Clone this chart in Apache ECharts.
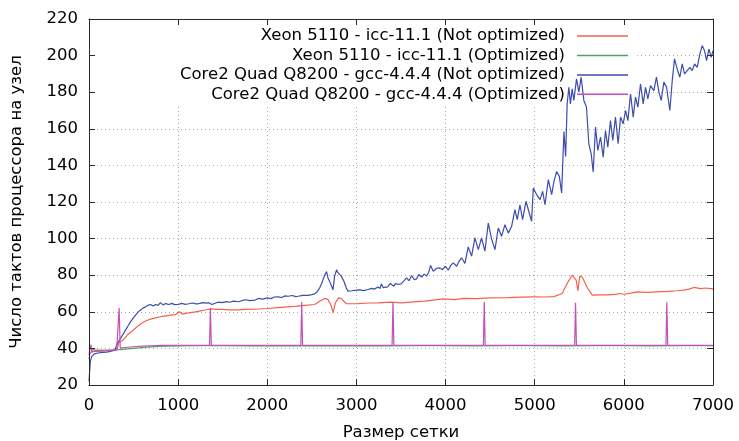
<!DOCTYPE html>
<html>
<head>
<meta charset="utf-8">
<script src="https://cdn.jsdelivr.net/npm/echarts@6/dist/echarts.min.js"></script>
<style>html,body{margin:0;padding:0;background:#fff}#c{width:739px;height:441px}</style>
</head>
<body>
<div id="c"></div>
<script>
const seriesNames = [
  'Xeon 5110 - icc-11.1 (Not optimized)',
  'Xeon 5110 - icc-11.1 (Optimized)',
  'Core2 Quad Q8200 - gcc-4.4.4 (Not optimized)',
  'Core2 Quad Q8200 - gcc-4.4.4 (Optimized)'
];
const xTicks = [0, 1000, 2000, 3000, 4000, 5000, 6000, 7000];
const yTicks = [20, 40, 60, 80, 100, 120, 140, 160, 180, 200, 220];

const redX = [0,10,30,100,200,290,318,336,373,400,429,485,520,560,600,634,690,746,800,858,920,970,1018,1044,1100,1194,1250,1306,1362,1420,1492,1580,1679,1746,1865,2000,2150,2307,2420,2531,2587,2643,2680,2700,2720,2737,2750,2763,2800,2830,2849,2886,3018,3150,3242,3380,3504,3640,3766,3974,4100,4200,4350,4500,4700,4850,5000,5110,5215,5308,5364,5420,5439,5465,5484,5506,5533,5589,5645,5730,5813,5900,5955,6000,6080,6150,6250,6374,6500,6600,6673,6730,6785,6860,6920,6972,7000];
const redY = [34,37,38.5,38.8,39,39.2,40,43.6,44.2,45.5,47.3,49.5,51,52.7,54,55,56,56.7,57.3,57.8,58.2,58.5,60,58.7,59.3,60,60.5,61,61.6,61.3,61.3,61.1,61,61.3,61.4,61.8,62.4,63,63.5,64,65.8,67.3,66.8,65.8,63,59.5,62,64.9,67.6,67.2,66.2,64.4,64.5,64.8,64.9,65.3,64.9,65.4,65.8,67.1,66.7,67.3,67.2,67.6,67.7,68,68.2,68.1,68.3,70,75.5,80,81,77.3,71.5,79.5,79,73.3,69.1,69.2,69.3,69.5,70,69.6,70.2,70.9,70.6,70.9,71.2,71.5,71.8,72.4,73.3,72.7,73,72.7,72.5];

const greenX = [0,20,60,150,250,300,373,460,560,650,746,850,1000,1200,1500,1800,2000,2300,2600,3000,3300,3600,4000,4300,4600,5000,5300,5600,6000,6300,6600,7000];
const greenY = [40.5,40,39.2,39,39,39.2,39.5,39.9,40.3,40.7,41,41.2,41.4,41.5,41.5,41.4,41.4,41.5,41.4,41.5,41.4,41.5,41.5,41.4,41.5,41.5,41.4,41.5,41.5,41.4,41.5,41.5];

const blueX = [0,15,30,60,100,150,200,250,290,317,354,380,410,440,466,495,522,550,578,605,634,660,690,720,746,775,802,830,860,895,930,960,1000,1040,1080,1119,1160,1200,1231,1280,1320,1343,1362,1380,1420,1460,1492,1540,1580,1620,1679,1720,1760,1800,1865,1900,1950,2000,2040,2080,2120,2160,2200,2232,2280,2320,2344,2400,2456,2500,2531,2560,2587,2610,2625,2650,2665,2681,2700,2720,2737,2755,2778,2790,2804,2830,2860,2886,2905,2950,3000,3040,3080,3130,3170,3200,3242,3265,3280,3300,3317,3350,3380,3392,3420,3440,3467,3500,3530,3562,3590,3619,3650,3675,3700,3731,3760,3787,3810,3832,3862,3900,3936,3965,4000,4030,4060,4086,4124,4150,4180,4217,4254,4292,4329,4367,4404,4441,4479,4516,4554,4591,4628,4666,4703,4741,4778,4804,4834,4864,4902,4939,4965,4984,5022,5059,5089,5115,5153,5190,5216,5246,5276,5302,5328,5347,5364,5383,5401,5420,5439,5469,5495,5521,5551,5581,5607,5633,5656,5682,5708,5738,5768,5794,5820,5850,5876,5906,5936,5963,5992,6019,6045,6075,6105,6131,6157,6187,6217,6243,6269,6299,6336,6366,6393,6419,6449,6479,6516,6543,6568,6598,6628,6655,6681,6711,6741,6767,6793,6823,6853,6879,6905,6928,6954,6980,7000];
const blueY = [22,33,35.5,37,37.5,37.8,38,38.5,39,42.7,45.5,47.5,50,52.5,54.5,56.5,58.2,59.8,61,62,62.7,63.5,64,63.2,64,63.5,65,63.8,64.5,64,64.6,63.9,64,64.6,64.1,64.4,64.8,64.3,64.5,65,64.7,65,65.2,64,64.8,65.3,65,65.6,65.2,65.8,65.5,66.2,66.6,66.1,66.4,67.3,66.9,67.6,67.2,68.1,68.2,67.8,68.7,68.5,68.9,68.3,68.5,69,69,69.4,69.8,71,73,75.5,77.6,80.7,82,78.5,76.5,77,72,79.5,83,81.5,80.7,79.5,76.7,73,71.3,71.5,71.8,72,71.6,72.2,72.8,72.4,73.5,72.8,75.3,73.2,74,73.6,75.5,74.9,74,75.5,74.9,75.3,76.8,78.5,77,79.8,77.5,78,80.4,79,80.6,79.5,81.5,85.3,82.2,83.8,84,83,84.9,82.7,85.5,86.7,84.9,87.5,89.5,86.4,95.5,90.4,100.4,94,100.4,93.1,108.5,99.8,94,105.8,101.3,107.6,103,106.7,115.8,110.4,118.5,110.4,120.4,114,109.5,127.6,124,121.3,125.8,118.5,132.2,124,131.3,136.7,134,124.9,158.5,144.9,173.6,182.7,173.6,181.8,175.5,187.3,180,188.2,175.5,171.8,151.8,146.4,136.4,160.9,148.2,155.5,144.5,159,150,164.5,153.6,166.4,151.8,166.4,162.7,170,164.5,179,166.4,177.3,171.8,184.5,173.6,182.7,176.4,183.6,180.9,188.2,180,175.5,185.5,182.7,170,186.4,198.2,192.7,188.2,195.5,190,191.8,193.6,191.8,195.5,193.6,200.9,205.5,202.7,197.3,203.6,199,202.7];

const pinkX = [0,12,22,32,60,150,250,310,326,338,350,400,500,600,700,800,1000,1200,1352,1362,1372,1600,1900,2200,2376,2386,2396,2700,3000,3200,3400,3410,3420,3700,4000,4200,4424,4434,4444,4700,5000,5200,5448,5458,5468,5700,6000,6250,6472,6482,6492,6700,7000];
const pinkY = [36.5,40,42,38,38.3,38.5,38.8,39.2,40,62,40.2,40.5,40.9,41.2,41.4,41.6,41.7,41.6,41.6,62,41.6,41.7,41.6,41.7,41.6,65.3,41.6,41.7,41.6,41.7,41.6,65.3,41.6,41.7,41.6,41.7,41.6,65.3,41.6,41.7,41.6,41.7,41.6,65,41.6,41.7,41.6,41.7,41.6,65.2,41.6,41.7,41.6];

const colors = ['#f5604f', '#4aa95a', '#3c4dac', '#c44fbb'];
const FONT = 'DejaVu Sans';
const FS = 16.5;

function zip(xs, ys) { return xs.map((x, i) => [x, ys[i]]); }

const axisCol = '#2a2a2a';
const xBase = { type: 'value', min: xTicks[0], max: xTicks[xTicks.length - 1], interval: xTicks[1] - xTicks[0] };
const yBase = { type: 'value', min: yTicks[0], max: yTicks[yTicks.length - 1], interval: yTicks[1] - yTicks[0] };
const frameLine = { show: true, onZero: false, lineStyle: { color: axisCol, width: 1 } };
const frameTick = { show: true, inside: true, length: 6, lineStyle: { color: axisCol } };
const gridLine = { show: true, lineStyle: { color: '#a8a8a8', width: 1, type: [1, 3] } };
const plain = v => String(v);

const chart = echarts.init(document.getElementById('c'), null, { renderer: 'canvas' });
chart.setOption({
  animation: false,
  backgroundColor: '#fff',
  grid: { left: 89, right: 26, top: 19, bottom: 56, containLabel: false, outerBoundsMode: 'none' },
  graphic: [{
    type: 'rect', z: 1, silent: true,
    shape: { x: 96, y: 20, width: 540, height: 84 },
    style: { fill: '#fff' }
  }],
  legend: {
    orient: 'vertical', align: 'right', right: 111, top: 26.5, padding: 0,
    itemGap: 0.2, itemWidth: 51, itemHeight: 1.5, icon: 'rect', selectedMode: false,
    data: seriesNames,
    textStyle: { fontFamily: FONT, fontSize: FS, color: '#000', lineHeight: 19.2, padding: [0, 7, 0, 0] }
  },
  xAxis: [
    Object.assign({}, xBase, {
      position: 'bottom', z: 5, axisLine: frameLine, axisTick: frameTick,
      axisLabel: { margin: 12, color: '#000', fontFamily: FONT, fontSize: FS, formatter: plain },
      splitLine: { show: false },
      name: 'Размер сетки', nameLocation: 'middle', nameGap: 39,
      nameTextStyle: { color: '#000', fontFamily: FONT, fontSize: FS }
    }),
    Object.assign({}, xBase, {
      position: 'top', z: 5, axisLine: frameLine, axisTick: frameTick,
      axisLabel: { show: false }, splitLine: { show: false }
    }),
    Object.assign({}, xBase, {
      position: 'bottom', z: 0, axisLine: { show: false }, axisTick: { show: false },
      axisLabel: { show: false }, splitLine: gridLine
    })
  ],
  yAxis: [
    Object.assign({}, yBase, {
      position: 'left', z: 5, axisLine: frameLine, axisTick: frameTick,
      axisLabel: { margin: 11, color: '#000', fontFamily: FONT, fontSize: FS, formatter: plain },
      splitLine: { show: false },
      name: 'Число тактов процессора на узел', nameLocation: 'middle', nameGap: 64, nameRotate: 90,
      nameTextStyle: { color: '#000', fontFamily: FONT, fontSize: FS }
    }),
    Object.assign({}, yBase, {
      position: 'right', z: 5, axisLine: frameLine, axisTick: frameTick,
      axisLabel: { show: false }, splitLine: { show: false }
    }),
    Object.assign({}, yBase, {
      position: 'left', z: 0, axisLine: { show: false }, axisTick: { show: false },
      axisLabel: { show: false }, splitLine: gridLine
    })
  ],
  series: [
    { name: seriesNames[0], data: zip(redX, redY) },
    { name: seriesNames[1], data: zip(greenX, greenY) },
    { name: seriesNames[2], data: zip(blueX, blueY) },
    { name: seriesNames[3], data: zip(pinkX, pinkY) }
  ].map((s, i) => Object.assign({
    type: 'line', xAxisIndex: 0, yAxisIndex: 0, symbol: 'none', showSymbol: false,
    z: 2, color: colors[i], lineStyle: { width: 1.2, color: colors[i] }
  }, s))
});
</script>
</body>
</html>
